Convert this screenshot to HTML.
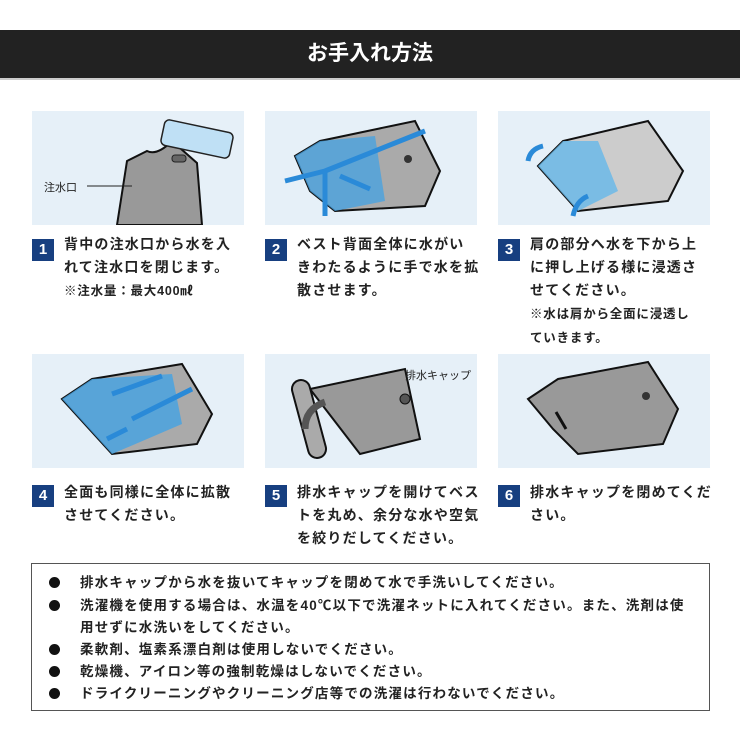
<!DOCTYPE html>
<html><head><meta charset="utf-8"><style>
body{margin:0;width:740px;height:740px;background:#fff;font-family:"Liberation Sans","Noto Sans CJK JP",sans-serif;position:relative;overflow:hidden;color:#222}
.hd{position:absolute;left:0;top:30px;width:740px;height:48px;background:#222;color:#fff;font-size:21px;font-weight:bold;text-align:center;line-height:48px;border-bottom:2px solid #ccc}
.p{position:absolute;width:212px;height:114px;background:#e6f0f8;overflow:hidden}
.b{position:absolute;width:22px;height:22px;background:#173f80;color:#fff;font-size:15px;font-weight:bold;text-align:center;line-height:22px}
.t{position:absolute;font-size:14px;font-weight:bold;line-height:23px;white-space:nowrap;letter-spacing:1.2px}
.n{font-size:12.5px;letter-spacing:0.8px}
.box{position:absolute;left:31px;top:563px;width:677px;height:146px;border:1px solid #555}
.box div{position:absolute;left:48px;font-size:13.5px;font-weight:bold;line-height:22px;letter-spacing:1.2px;white-space:nowrap}
.box span{position:absolute;left:-31px;width:11px;height:11px;border-radius:50%;background:#111;top:5px}
</style></head><body>
<div class="hd">お手入れ方法</div>

<div class="p" style="left:32px;top:111px"><svg width="212" height="114">
<path d="M85 114 L95 50 L115 40 Q125 45 140 30 L165 52 L170 114Z" fill="#999" stroke="#111" stroke-width="2"/>
<rect x="130" y="15" width="70" height="26" rx="5" transform="rotate(12 165 28)" fill="#bfe0f5" stroke="#222" stroke-width="1.5"/>
<rect x="140" y="44" width="14" height="7" rx="3" fill="#666" stroke="#222"/>
<line x1="55" y1="75" x2="100" y2="75" stroke="#222"/>
<text x="12" y="80" font-size="11" fill="#222" font-family="Noto Sans CJK JP">注水口</text></svg></div>

<div class="p" style="left:265px;top:111px"><svg width="212" height="114">
<path d="M30 45 L55 30 L150 10 L175 60 L160 95 L70 100 L45 80Z" fill="#aaa" stroke="#111" stroke-width="2"/>
<path d="M30 45 L55 30 L110 25 L120 90 L70 100 L45 80Z" fill="#4aa3e0" opacity="0.8"/>
<circle cx="143" cy="48" r="4" fill="#333"/>
<path d="M60 60 L160 20 M60 60 L20 70 M60 60 L60 105 M75 65 L105 78" stroke="#2a8ad8" stroke-width="5" fill="none"/>
</svg></div>

<div class="p" style="left:498px;top:111px"><svg width="212" height="114">
<path d="M40 55 L65 30 L150 10 L185 60 L170 90 L80 100Z" fill="#ccc" stroke="#111" stroke-width="2"/>
<path d="M40 55 L65 30 L100 30 L120 80 L80 100Z" fill="#6bb8e8" opacity="0.85"/>
<path d="M30 50 Q32 38 45 35 M75 105 Q78 90 90 85" stroke="#2a8ad8" stroke-width="5" fill="none"/>
</svg></div>

<div class="p" style="left:32px;top:354px"><svg width="212" height="114">
<path d="M30 45 L60 25 L150 10 L180 60 L165 90 L80 100Z" fill="#aaa" stroke="#111" stroke-width="2"/>
<path d="M30 45 L60 25 L140 20 L150 70 L80 100Z" fill="#4aa3e0" opacity="0.85"/>
<path d="M80 40 L130 22 M100 65 L160 35 M75 85 L95 75" stroke="#2a8ad8" stroke-width="5"/>
</svg></div>

<div class="p" style="left:265px;top:354px"><svg width="212" height="114">
<path d="M45 35 L140 15 L155 85 L95 100 Z" fill="#999" stroke="#111" stroke-width="2"/>
<rect x="35" y="25" width="18" height="80" rx="9" transform="rotate(-15 44 65)" fill="#aaa" stroke="#111" stroke-width="2"/>
<circle cx="140" cy="45" r="5" fill="#555" stroke="#111"/>
<path d="M40 75 Q40 55 60 48" stroke="#555" stroke-width="7" fill="none"/>
<text x="140" y="25" font-size="11" fill="#222" font-family="Noto Sans CJK JP">排水キャップ</text></svg></div>

<div class="p" style="left:498px;top:354px"><svg width="212" height="114">
<path d="M30 45 L60 25 L150 8 L180 55 L165 90 L80 100 L55 75Z" fill="#999" stroke="#111" stroke-width="2"/>
<circle cx="148" cy="42" r="4" fill="#333"/>
<line x1="58" y1="58" x2="68" y2="75" stroke="#111" stroke-width="3"/>
</svg></div>

<div class="b" style="left:32px;top:239px">1</div>
<div class="t" style="left:64px;top:233px">背中の注水口から水を入<br>れて注水口を閉じます。<br><span class="n">※注水量：最大400㎖</span></div>
<div class="b" style="left:265px;top:239px">2</div>
<div class="t" style="left:297px;top:233px">ベスト背面全体に水がい<br>きわたるように手で水を拡<br>散させます。</div>
<div class="b" style="left:498px;top:239px">3</div>
<div class="t" style="left:530px;top:233px">肩の部分へ水を下から上<br>に押し上げる様に浸透さ<br>せてください。<br><span class="n">※水は肩から全面に浸透し<br>ていきます。</span></div>

<div class="b" style="left:32px;top:485px">4</div>
<div class="t" style="left:64px;top:481px">全面も同様に全体に拡散<br>させてください。</div>
<div class="b" style="left:265px;top:485px">5</div>
<div class="t" style="left:297px;top:481px">排水キャップを開けてベス<br>トを丸め、余分な水や空気<br>を絞りだしてください。</div>
<div class="b" style="left:498px;top:485px">6</div>
<div class="t" style="left:530px;top:481px">排水キャップを閉めてくだ<br>さい。</div>

<div class="box">
<div style="top:8px"><span></span>排水キャップから水を抜いてキャップを閉めて水で手洗いしてください。</div>
<div style="top:31px"><span></span>洗濯機を使用する場合は、水温を40℃以下で洗濯ネットに入れてください。また、洗剤は使<br>用せずに水洗いをしてください。</div>
<div style="top:75px"><span></span>柔軟剤、塩素系漂白剤は使用しないでください。</div>
<div style="top:97px"><span></span>乾燥機、アイロン等の強制乾燥はしないでください。</div>
<div style="top:119px"><span></span>ドライクリーニングやクリーニング店等での洗濯は行わないでください。</div>
</div>
</body></html>
